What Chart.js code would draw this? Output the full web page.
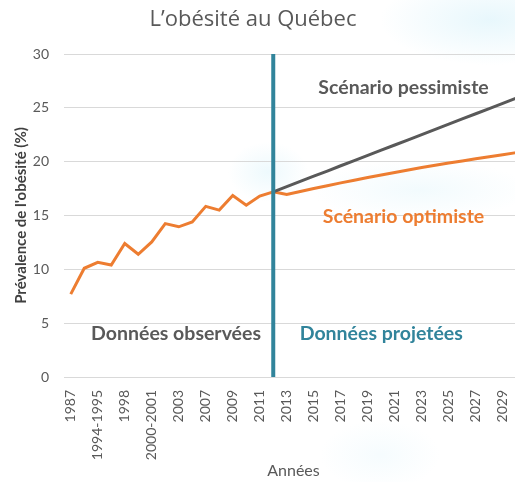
<!DOCTYPE html>
<html>
<head>
<meta charset="utf-8">
<script src="https://cdn.jsdelivr.net/npm/chart.js@4"></script>
<style>
  html, body { margin: 0; padding: 0; background: #ffffff; }
  #wrap { position: relative; width: 515px; height: 482px; overflow: hidden;
    background:
      radial-gradient(ellipse 110px 45px at 490px 20px, rgba(222,244,251,0.7), rgba(255,255,255,0)),
      radial-gradient(ellipse 40px 30px at 268px 172px, rgba(212,241,250,0.4), rgba(255,255,255,0)),
      radial-gradient(ellipse 110px 30px at 420px 190px, rgba(218,243,250,0.35), rgba(255,255,255,0)),
      radial-gradient(ellipse 60px 35px at 380px 455px, rgba(228,246,252,0.35), rgba(255,255,255,0)),
      #ffffff; }
  canvas { position: absolute; left: 0; top: 0; }
</style>
</head>
<body>
<div id="wrap">
  <canvas id="c" width="525" height="482"></canvas>
</div>
<script>
// ---- Data ----
const chartTitle = 'L’obésité au Québec';
const categories = ['1987','1992-1993','1994-1995','1996-1997','1998','1998-1999','2000-2001','2002','2003','2005','2007','2008','2009','2010','2011','2012','2013','2014','2015','2016','2017','2018','2019','2020','2021','2022','2023','2024','2025','2026','2027','2028','2029','2030'];
const observedValues = [7.7,10.1,10.65,10.4,12.4,11.4,12.55,14.25,13.95,14.4,15.85,15.5,16.85,15.95,16.8,17.2];
const projectionStart = '2012';
const pessimistValues = [17.2,17.68,18.17,18.65,19.13,19.62,20.10,20.58,21.07,21.55,22.03,22.52,23.00,23.48,23.97,24.45,24.93,25.42,25.90];
const optimistValues = [17.2,16.95,17.23,17.50,17.77,18.03,18.28,18.53,18.77,19.00,19.23,19.45,19.66,19.87,20.07,20.27,20.46,20.65,20.84];
const yTicks = [0,5,10,15,20,25,30];

// ---- Build series aligned to categories ----
const startIdx = categories.indexOf(projectionStart);
const pad = (arr, offset) => categories.map((_, i) => (i - offset >= 0 && i - offset < arr.length) ? arr[i - offset] : null);
const observedSeries = pad(observedValues, 0);
const pessSeries = pad(pessimistValues, startIdx);
const optSeries = pad(optimistValues, startIdx);

const FONT = 'Lato, "Open Sans", sans-serif';
const GREY = '#595959';
const ORANGE = '#ED7D31';
const TEAL = '#31849B';

const annotations = [
  { text: 'Données observées', cat: 7.8, val: 4.0, color: GREY },
  { text: 'Données projetées', cat: 23.0, val: 4.0, color: TEAL },
  { text: 'Scénario pessimiste', cat: 24.65, val: 26.9, color: GREY },
  { text: 'Scénario optimiste', cat: 24.65, val: 14.85, color: ORANGE }
];

const overlay = {
  id: 'overlay',
  afterDatasetsDraw(chart) {
    const { ctx, scales: { x, y } } = chart;
    const px = x.getPixelForValue(startIdx);
    ctx.save();
    ctx.strokeStyle = TEAL;
    ctx.lineWidth = 4;
    ctx.beginPath();
    ctx.moveTo(px, y.getPixelForValue(30));
    ctx.lineTo(px, y.getPixelForValue(0));
    ctx.stroke();
    ctx.font = 'bold 19.5px ' + FONT;
    ctx.textAlign = 'center';
    ctx.textBaseline = 'middle';
    annotations.forEach(a => {
      ctx.fillStyle = a.color;
      ctx.fillText(a.text, x.getPixelForValue(a.cat), y.getPixelForValue(a.val));
    });
    // chart title, centred over the visible 515px frame
    ctx.font = '22px "Open Sans", sans-serif';
    ctx.fillStyle = GREY;
    ctx.fillText(chartTitle, 253, 20);
    ctx.restore();
  }
};

new Chart(document.getElementById('c'), {
  type: 'line',
  data: {
    labels: categories,
    datasets: [
      { label: 'Scénario pessimiste', data: pessSeries, borderColor: GREY, borderWidth: 3, pointRadius: 0, tension: 0, spanGaps: false },
      { label: 'Scénario optimiste', data: optSeries, borderColor: ORANGE, borderWidth: 3, pointRadius: 0, tension: 0, spanGaps: false },
      { label: 'Données observées', data: observedSeries, borderColor: ORANGE, borderWidth: 3, pointRadius: 0, tension: 0, spanGaps: false }
    ]
  },
  options: {
    responsive: false,
    animation: false,
    layout: { padding: { left: 0, right: 2, top: 54, bottom: 2 } },
    plugins: {
      legend: { display: false },
      tooltip: { enabled: false },
      title: { display: false }
    },
    scales: {
      x: {
        offset: true,
        grid: { display: false },
        border: { display: false },
        afterFit: (s) => { s.paddingLeft = 0; s.paddingRight = 0; s.height = 103; },
        ticks: {
          color: GREY,
          font: { family: FONT, size: 14 },
          minRotation: 90,
          maxRotation: 90,
          autoSkip: false,
          padding: 5,
          callback: (v, i) => (i % 2 === 0 ? categories[i] : '')
        },
        title: {
          display: true,
          text: 'Années',
          color: GREY,
          font: { family: FONT, size: 16 },
          padding: { top: 4, bottom: 0 }
        }
      },
      y: {
        min: 0,
        max: 30,
        afterBuildTicks: (s) => { s.ticks = yTicks.map(v => ({ value: v })); },
        afterFit: (s) => { s.width = 64; s.paddingTop = 0; },
        grid: { color: '#d9d9d9', drawTicks: false, lineWidth: 1 },
        border: { display: false },
        ticks: { color: GREY, font: { family: FONT, size: 14 }, padding: 15 },
        title: {
          display: true,
          text: 'Prévalence de l\'obésité (%)',
          color: '#404040',
          font: { family: FONT, size: 15, weight: 'bold' },
          padding: { top: 12, bottom: 2 }
        }
      }
    }
  },
  plugins: [overlay]
});
</script>
</body>
</html>
